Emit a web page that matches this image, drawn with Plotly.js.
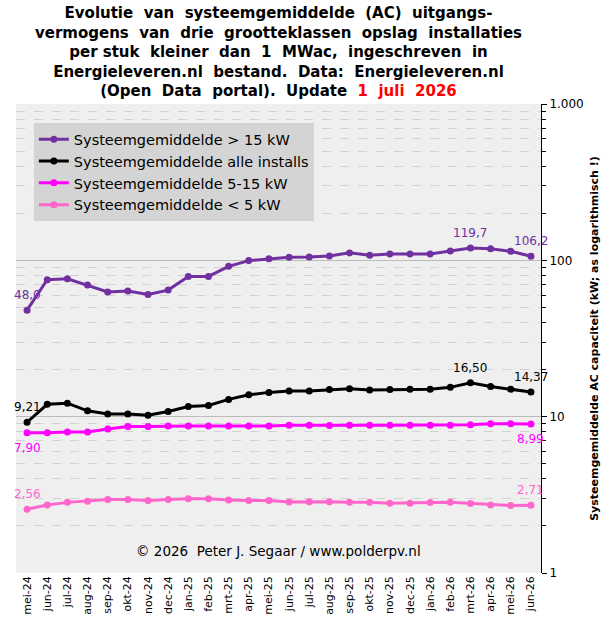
<!DOCTYPE html>
<html>
<head>
<meta charset="utf-8">
<script src="https://cdn.plot.ly/plotly-3.0.1.min.js"></script>
<style>
  html, body { margin: 0; padding: 0; background: #ffffff; }
  #divPlot { width: 601px; height: 626px; }
</style>
</head>
<body>
<div id="divPlot"></div>
<script>
/* Months (Dutch labels) */
var months = ['mei-24', 'jun-24', 'jul-24', 'aug-24', 'sep-24', 'okt-24',
  'nov-24', 'dec-24', 'jan-25', 'feb-25', 'mrt-25', 'apr-25', 'mei-25',
  'jun-25', 'jul-25', 'aug-25', 'sep-25', 'okt-25', 'nov-25', 'dec-25',
  'jan-26', 'feb-26', 'mrt-26', 'apr-26', 'mei-26', 'jun-26'];

/* System averages in kW */
var above15 = [48.0, 75.2, 76.2, 69.5, 62.7, 63.6, 60.4, 64.5, 78.9, 78.9,
  91.5, 99.6, 102.5, 104.5, 105.1, 106.7, 111.6, 107.7, 109.9, 109.9,
  109.9, 114.9, 119.7, 118.5, 114.2, 106.2];
var allInstalls = [9.21, 12.0, 12.2, 10.9, 10.4, 10.4, 10.2, 10.8, 11.6, 11.8,
  12.9, 13.8, 14.3, 14.6, 14.6, 14.9, 15.1, 14.8, 14.9, 15.0,
  15.0, 15.4, 16.50, 15.6, 15.0, 14.37];
var mid5to15 = [7.90, 7.88, 7.98, 7.98, 8.35, 8.65, 8.65, 8.72, 8.72, 8.72,
  8.72, 8.72, 8.72, 8.82, 8.80, 8.78, 8.82, 8.82, 8.82, 8.82,
  8.82, 8.82, 8.87, 9.02, 9.02, 8.99];
var below5 = [2.56, 2.72, 2.83, 2.88, 2.95, 2.95, 2.91, 2.95, 2.99, 2.99,
  2.93, 2.91, 2.91, 2.85, 2.86, 2.86, 2.83, 2.83, 2.79, 2.79,
  2.82, 2.83, 2.78, 2.72, 2.70, 2.71];

/* Right axis labels */
var yTickVals = [1, 10, 100, 1000];
var yTickText = ['1', '10', '100', '1.000'];

var FONT = 'DejaVu Sans, Verdana, sans-serif';

function series(name, y, color) {
  return {
    x : months,
    y : y,
    name : name,
    type : 'scatter',
    mode : 'lines+markers',
    line : {color : color, width : 3},
    marker : {color : color, size : 7},
    hoverinfo : 'skip'
  };
}

var data = [
  series('Systeemgemiddelde &gt; 15 kW', above15, '#7030a0'),
  series('Systeemgemiddelde alle installs', allInstalls, '#000000'),
  series('Systeemgemiddelde 5-15 kW', mid5to15, '#ff00ff'),
  series('Systeemgemiddelde &lt; 5 kW', below5, '#ff66cc')
];

// value labels, Dutch decimal comma
function labels(y, idx, decimals, color, shift) {
  return idx.map(function(i) {
    return {
      x : months[i], y : Math.log10(y[i]), xref : 'x', yref : 'y',
      text : y[i].toFixed(decimals).replace('.', ','),
      showarrow : false, yshift : shift,
      font : {family : FONT, size : 12, color : color}
    };
  });
}

var last = months.length - 1;
var annotations = []
  .concat(labels(above15, [0, 22, last], 1, '#7030a0', 15))
  .concat(labels(allInstalls, [0, 22, last], 2, '#000000', 15))
  .concat(labels(mid5to15, [0, last], 2, '#ff00ff', -15))
  .concat(labels(below5, [0, last], 2, '#ff66cc', 15));

annotations.push({
  x : 0.5, y : 0.046, xref : 'paper', yref : 'paper',
  yanchor : 'middle',
  text : '© 2026  Peter J. Segaar / www.polderpv.nl',
  showarrow : false,
  font : {family : FONT, size : 13.5, color : '#000000'}
});

var layout = {
  width : 601,
  height : 626,
  margin : {l : 16, r : 60, t : 104, b : 53},
  paper_bgcolor : '#ffffff',
  plot_bgcolor : '#efefef',
  font : {family : FONT, size : 12, color : '#000000'},
  showlegend : true,
  hovermode : false,
  title : {
    text : 'Evolutie  van  systeemgemiddelde  (AC)  uitgangs-<br>' +
           'vermogens  van  drie  grootteklassen  opslag  installaties<br>' +
           'per stuk  kleiner  dan  1  MWac,  ingeschreven  in<br>' +
           'Energieleveren.nl  bestand.  Data:  Energieleveren.nl<br>' +
           '(Open  Data  portal).  Update  <span style="color:#ff0000">1  juli  2026</span>',
    font : {family : FONT, size : 15, weight : 'bold', color : '#000000'},
    x : 0.5, xref : 'paper',
    y : 0.971, yref : 'container', yanchor : 'top'
  },
  legend : {
    x : 0.034, y : 0.959, xanchor : 'left', yanchor : 'top',
    bgcolor : '#d4d4d4',
    borderwidth : 0,
    font : {family : FONT, size : 14.5, color : '#000000'},
    tracegroupgap : 0
  },
  xaxis : {
    type : 'category',
    range : [-0.55, 25.5],
    tickangle : -90,
    showgrid : false,
    zeroline : false,
    showline : false,
    ticks : '',
    tickfont : {family : FONT, size : 11},
    fixedrange : true
  },
  yaxis : {
    type : 'log',
    range : [0, 3],
    side : 'right',
    showline : true,
    linecolor : '#000000',
    linewidth : 1,
    ticks : 'outside',
    ticklen : 5,
    tickcolor : '#000000',
    tickvals : yTickVals,
    ticktext : yTickText,
    tickfont : {family : FONT, size : 12},
    gridcolor : '#bbbbbb',
    zeroline : false,
    minor : {
      ticks : 'outside',
      ticklen : 4,
      tickcolor : '#000000',
      showgrid : true,
      gridcolor : '#d2d2d2',
      griddash : 'dash',
      dtick : 'D1'
    },
    title : {
      text : 'Systeemgemiddelde AC capaciteit (kW; as logarithmisch !)',
      font : {family : FONT, size : 11, weight : 'bold'},
      standoff : 10
    },
    fixedrange : true
  },
  annotations : annotations
};

Plotly.newPlot('divPlot', data, layout, {displayModeBar : false, staticPlot : true});
</script>
</body>
</html>
